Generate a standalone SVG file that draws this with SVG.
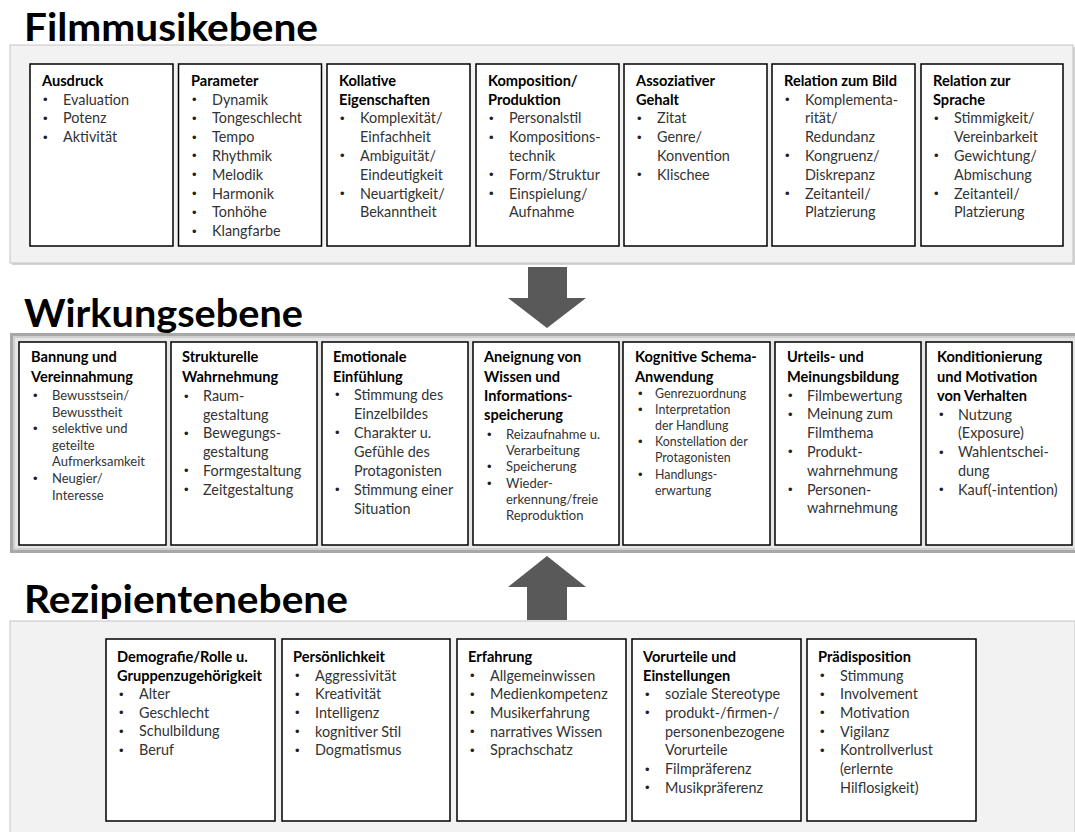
<svg xmlns="http://www.w3.org/2000/svg" width="1075" height="832" viewBox="0 0 1075 832">
<style>
.h{font-family:Lato,"Liberation Sans",sans-serif;font-weight:700;font-size:39px;fill:#000}
.t{font-family:Lato,"Liberation Sans",sans-serif;font-weight:700;font-size:14.6px;fill:#000}
.i{font-family:Lato,"Liberation Sans",sans-serif;font-size:14.4px;fill:#333}
.s{font-family:Lato,"Liberation Sans",sans-serif;font-size:13px;fill:#333}
.xs{font-family:Lato,"Liberation Sans",sans-serif;font-size:12.4px;fill:#333}
.d{font-family:"Liberation Sans",sans-serif;font-size:13px;fill:#222}
.b{fill:#fff;stroke:#000;stroke-width:1.5}
.arr{fill:#595959}
</style>
<rect width="1075" height="832" fill="#fff"/>
<g id="panels">
<rect x="12" y="47" width="1063" height="218" fill="#d4d4d4"/>
<rect x="10" y="45" width="1063" height="218" fill="#f2f2f2" stroke="#c4c4c4" stroke-width="1"/>
<rect x="11.5" y="334.5" width="1067" height="217" fill="#e6e6e6" stroke="#a8a8a8" stroke-width="3"/>
<rect x="14" y="337" width="1062" height="212" fill="none" stroke="#cfcfcf" stroke-width="2"/>
<rect x="10" y="621" width="1065" height="220" fill="#f2f2f2" stroke="#c4c4c4" stroke-width="1"/>
</g>
<g id="headings">
<text class="h" x="24" y="41" textLength="294" lengthAdjust="spacingAndGlyphs">Filmmusikebene</text>
<text class="h" x="24" y="327" textLength="279" lengthAdjust="spacingAndGlyphs">Wirkungsebene</text>
<text class="h" x="24" y="613" textLength="324" lengthAdjust="spacingAndGlyphs">Rezipientenebene</text>
</g>
<g id="connectors">
<polygon class="arr" points="528,267 567,267 567,298 586,298 547,328 508,298 528,298"/>
<polygon class="arr" points="547,556 586,587 567,587 567,620 527,620 527,587 508,587"/>
</g>

<g id="f1">
<rect class="b" x="30" y="64" width="143" height="182"/>
<text class="t" x="42" y="86">Ausdruck</text>
<text class="d" x="43" y="104">•</text><text class="i" x="63" y="104.5">Evaluation</text>
<text class="d" x="43" y="122.8">•</text><text class="i" x="63" y="123.3">Potenz</text>
<text class="d" x="43" y="141.6">•</text><text class="i" x="63" y="142.1">Aktivität</text>
</g>
<g id="f2">
<rect class="b" x="178.5" y="64" width="143" height="182"/>
<text class="t" x="191" y="86">Parameter</text>
<text class="d" x="192" y="104">•</text><text class="i" x="212" y="104.5">Dynamik</text>
<text class="d" x="192" y="122.8">•</text><text class="i" x="212" y="123.3">Tongeschlecht</text>
<text class="d" x="192" y="141.6">•</text><text class="i" x="212" y="142.1">Tempo</text>
<text class="d" x="192" y="160.4">•</text><text class="i" x="212" y="160.9">Rhythmik</text>
<text class="d" x="192" y="179.2">•</text><text class="i" x="212" y="179.7">Melodik</text>
<text class="d" x="192" y="198">•</text><text class="i" x="212" y="198.5">Harmonik</text>
<text class="d" x="192" y="216.8">•</text><text class="i" x="212" y="217.3">Tonhöhe</text>
<text class="d" x="192" y="235.6">•</text><text class="i" x="212" y="236.1">Klangfarbe</text>
</g>
<g id="f3">
<rect class="b" x="327" y="64" width="143" height="182"/>
<text class="t" x="339" y="86">Kollative</text>
<text class="t" x="339" y="104.5">Eigenschaften</text>
<text class="d" x="340" y="122.8">•</text><text class="i" x="360" y="123.3">Komplexität/</text>
<text class="i" x="360" y="142.1">Einfachheit</text>
<text class="d" x="340" y="160.4">•</text><text class="i" x="360" y="160.9">Ambiguität/</text>
<text class="i" x="360" y="179.7">Eindeutigkeit</text>
<text class="d" x="340" y="198">•</text><text class="i" x="360" y="198.5">Neuartigkeit/</text>
<text class="i" x="360" y="217.3">Bekanntheit</text>
</g>
<g id="f4">
<rect class="b" x="476" y="64" width="143" height="182"/>
<text class="t" x="488" y="86">Komposition/</text>
<text class="t" x="488" y="104.5">Produktion</text>
<text class="d" x="489" y="122.8">•</text><text class="i" x="509" y="123.3">Personalstil</text>
<text class="d" x="489" y="141.6">•</text><text class="i" x="509" y="142.1">Kompositions-</text>
<text class="i" x="509" y="160.9">technik</text>
<text class="d" x="489" y="179.2">•</text><text class="i" x="509" y="179.7">Form/Struktur</text>
<text class="d" x="489" y="198">•</text><text class="i" x="509" y="198.5">Einspielung/</text>
<text class="i" x="509" y="217.3">Aufnahme</text>
</g>
<g id="f5">
<rect class="b" x="624" y="64" width="143" height="182"/>
<text class="t" x="636" y="86">Assoziativer</text>
<text class="t" x="636" y="104.5">Gehalt</text>
<text class="d" x="637" y="122.8">•</text><text class="i" x="657" y="123.3">Zitat</text>
<text class="d" x="637" y="141.6">•</text><text class="i" x="657" y="142.1">Genre/</text>
<text class="i" x="657" y="160.9">Konvention</text>
<text class="d" x="637" y="179.2">•</text><text class="i" x="657" y="179.7">Klischee</text>
</g>
<g id="f6">
<rect class="b" x="772" y="64" width="143" height="182"/>
<text class="t" x="784" y="86">Relation zum Bild</text>
<text class="d" x="785" y="104">•</text><text class="i" x="805" y="104.5">Komplementa-</text>
<text class="i" x="805" y="123.3">rität/</text>
<text class="i" x="805" y="142.1">Redundanz</text>
<text class="d" x="785" y="160.4">•</text><text class="i" x="805" y="160.9">Kongruenz/</text>
<text class="i" x="805" y="179.7">Diskrepanz</text>
<text class="d" x="785" y="198">•</text><text class="i" x="805" y="198.5">Zeitanteil/</text>
<text class="i" x="805" y="217.3">Platzierung</text>
</g>
<g id="f7">
<rect class="b" x="921" y="64" width="142" height="182"/>
<text class="t" x="933" y="86">Relation zur</text>
<text class="t" x="933" y="104.5">Sprache</text>
<text class="d" x="934" y="122.8">•</text><text class="i" x="954" y="123.3">Stimmigkeit/</text>
<text class="i" x="954" y="142.1">Vereinbarkeit</text>
<text class="d" x="934" y="160.4">•</text><text class="i" x="954" y="160.9">Gewichtung/</text>
<text class="i" x="954" y="179.7">Abmischung</text>
<text class="d" x="934" y="198">•</text><text class="i" x="954" y="198.5">Zeitanteil/</text>
<text class="i" x="954" y="217.3">Platzierung</text>
</g>

<g id="w1">
<rect class="b" x="19" y="342" width="147" height="203"/>
<text class="t" x="31" y="362">Bannung und</text>
<text class="t" x="31" y="382">Vereinnahmung</text>
<text class="d" x="33" y="400">•</text><text class="s" x="52" y="400">Bewusstsein/</text>
<text class="s" x="52" y="416.6">Bewusstheit</text>
<text class="d" x="33" y="433.2">•</text><text class="s" x="52" y="433.2">selektive und</text>
<text class="s" x="52" y="449.8">geteilte</text>
<text class="s" x="52" y="466.4">Aufmerksamkeit</text>
<text class="d" x="33" y="483">•</text><text class="s" x="52" y="483">Neugier/</text>
<text class="s" x="52" y="499.6">Interesse</text>
</g>
<g id="w2">
<rect class="b" x="171" y="342" width="146" height="203"/>
<text class="t" x="182" y="362">Strukturelle</text>
<text class="t" x="182" y="382">Wahrnehmung</text>
<text class="d" x="184" y="400.5">•</text><text class="i" x="203" y="401">Raum-</text>
<text class="i" x="203" y="419.7">gestaltung</text>
<text class="d" x="184" y="437.9">•</text><text class="i" x="203" y="438.4">Bewegungs-</text>
<text class="i" x="203" y="457.1">gestaltung</text>
<text class="d" x="184" y="475.3">•</text><text class="i" x="203" y="475.8">Formgestaltung</text>
<text class="d" x="184" y="494">•</text><text class="i" x="203" y="494.5">Zeitgestaltung</text>
</g>
<g id="w3">
<rect class="b" x="322" y="342" width="146" height="203"/>
<text class="t" x="333" y="362">Emotionale</text>
<text class="t" x="333" y="382">Einfühlung</text>
<text class="d" x="335" y="399">•</text><text class="i" x="354" y="399.5">Stimmung des</text>
<text class="i" x="354" y="418.5">Einzelbildes</text>
<text class="d" x="335" y="437">•</text><text class="i" x="354" y="437.5">Charakter u.</text>
<text class="i" x="354" y="456.5">Gefühle des</text>
<text class="i" x="354" y="475.5">Protagonisten</text>
<text class="d" x="335" y="494">•</text><text class="i" x="354" y="494.5">Stimmung einer</text>
<text class="i" x="354" y="513.5">Situation</text>
</g>
<g id="w4">
<rect class="b" x="473" y="342" width="146" height="203"/>
<text class="t" x="484" y="362">Aneignung von</text>
<text class="t" x="484" y="382">Wissen und</text>
<text class="t" x="484" y="401">Informations-</text>
<text class="t" x="484" y="420">speicherung</text>
<text class="d" x="487" y="439">•</text><text class="s" x="506" y="439">Reizaufnahme u.</text>
<text class="s" x="506" y="455.2">Verarbeitung</text>
<text class="d" x="487" y="471.4">•</text><text class="s" x="506" y="471.4">Speicherung</text>
<text class="d" x="487" y="487.6">•</text><text class="s" x="506" y="487.6">Wieder-</text>
<text class="s" x="506" y="503.8">erkennung/freie</text>
<text class="s" x="506" y="520">Reproduktion</text>
</g>
<g id="w5">
<rect class="b" x="623" y="342" width="147" height="203"/>
<text class="t" x="635" y="362">Kognitive Schema-</text>
<text class="t" x="635" y="382">Anwendung</text>
<text class="d" x="638" y="397.5">•</text><text class="xs" x="655" y="397.5">Genrezuordnung</text>
<text class="d" x="638" y="413.7">•</text><text class="xs" x="655" y="413.7">Interpretation</text>
<text class="xs" x="655" y="429.9">der Handlung</text>
<text class="d" x="638" y="446.1">•</text><text class="xs" x="655" y="446.1">Konstellation der</text>
<text class="xs" x="655" y="462.3">Protagonisten</text>
<text class="d" x="638" y="478.5">•</text><text class="xs" x="655" y="478.5">Handlungs-</text>
<text class="xs" x="655" y="494.7">erwartung</text>
</g>
<g id="w6">
<rect class="b" x="775" y="342" width="146" height="203"/>
<text class="t" x="787" y="362">Urteils- und</text>
<text class="t" x="787" y="382">Meinungsbildung</text>
<text class="d" x="788" y="400">•</text><text class="i" x="807" y="400.5">Filmbewertung</text>
<text class="d" x="788" y="418.8">•</text><text class="i" x="807" y="419.3">Meinung zum</text>
<text class="i" x="807" y="438.1">Filmthema</text>
<text class="d" x="788" y="456.4">•</text><text class="i" x="807" y="456.9">Produkt-</text>
<text class="i" x="807" y="475.7">wahrnehmung</text>
<text class="d" x="788" y="494">•</text><text class="i" x="807" y="494.5">Personen-</text>
<text class="i" x="807" y="513.3">wahrnehmung</text>
</g>
<g id="w7">
<rect class="b" x="926" y="342" width="146" height="203"/>
<text class="t" x="937" y="362">Konditionierung</text>
<text class="t" x="937" y="382">und Motivation</text>
<text class="t" x="937" y="401">von Verhalten</text>
<text class="d" x="939" y="419">•</text><text class="i" x="958" y="419.5">Nutzung</text>
<text class="i" x="958" y="438.3">(Exposure)</text>
<text class="d" x="939" y="456.6">•</text><text class="i" x="958" y="457.1">Wahlentschei-</text>
<text class="i" x="958" y="475.9">dung</text>
<text class="d" x="939" y="494.2">•</text><text class="i" x="958" y="494.7">Kauf(-intention)</text>
</g>

<g id="r1">
<rect class="b" x="106" y="639" width="169" height="182"/>
<text class="t" x="117" y="662">Demografie/Rolle u.</text>
<text class="t" x="117" y="680.5">Gruppenzugehörigkeit</text>
<text class="d" x="119" y="698.5">•</text><text class="i" x="139" y="699">Alter</text>
<text class="d" x="119" y="717.2">•</text><text class="i" x="139" y="717.7">Geschlecht</text>
<text class="d" x="119" y="735.9">•</text><text class="i" x="139" y="736.4">Schulbildung</text>
<text class="d" x="119" y="754.6">•</text><text class="i" x="139" y="755.1">Beruf</text>
</g>
<g id="r2">
<rect class="b" x="282" y="639" width="168" height="182"/>
<text class="t" x="293" y="662">Persönlichkeit</text>
<text class="d" x="295" y="680">•</text><text class="i" x="315" y="680.5">Aggressivität</text>
<text class="d" x="295" y="698.7">•</text><text class="i" x="315" y="699.2">Kreativität</text>
<text class="d" x="295" y="717.4">•</text><text class="i" x="315" y="717.9">Intelligenz</text>
<text class="d" x="295" y="736.1">•</text><text class="i" x="315" y="736.6">kognitiver Stil</text>
<text class="d" x="295" y="754.8">•</text><text class="i" x="315" y="755.3">Dogmatismus</text>
</g>
<g id="r3">
<rect class="b" x="457" y="639" width="169" height="182"/>
<text class="t" x="468" y="662">Erfahrung</text>
<text class="d" x="470" y="680">•</text><text class="i" x="490" y="680.5">Allgemeinwissen</text>
<text class="d" x="470" y="698.7">•</text><text class="i" x="490" y="699.2">Medienkompetenz</text>
<text class="d" x="470" y="717.4">•</text><text class="i" x="490" y="717.9">Musikerfahrung</text>
<text class="d" x="470" y="736.1">•</text><text class="i" x="490" y="736.6">narratives Wissen</text>
<text class="d" x="470" y="754.8">•</text><text class="i" x="490" y="755.3">Sprachschatz</text>
</g>
<g id="r4">
<rect class="b" x="632" y="639" width="169" height="182"/>
<text class="t" x="643" y="662">Vorurteile und</text>
<text class="t" x="643" y="680.5">Einstellungen</text>
<text class="d" x="645" y="698.7">•</text><text class="i" x="665" y="699.2">soziale Stereotype</text>
<text class="d" x="645" y="717.4">•</text><text class="i" x="665" y="717.9">produkt-/firmen-/</text>
<text class="i" x="665" y="736.6">personenbezogene</text>
<text class="i" x="665" y="755.3">Vorurteile</text>
<text class="d" x="645" y="773.5">•</text><text class="i" x="665" y="774">Filmpräferenz</text>
<text class="d" x="645" y="792.2">•</text><text class="i" x="665" y="792.7">Musikpräferenz</text>
</g>
<g id="r5">
<rect class="b" x="807" y="639" width="169" height="182"/>
<text class="t" x="818" y="662">Prädisposition</text>
<text class="d" x="820" y="680">•</text><text class="i" x="840" y="680.5">Stimmung</text>
<text class="d" x="820" y="698.7">•</text><text class="i" x="840" y="699.2">Involvement</text>
<text class="d" x="820" y="717.4">•</text><text class="i" x="840" y="717.9">Motivation</text>
<text class="d" x="820" y="736.1">•</text><text class="i" x="840" y="736.6">Vigilanz</text>
<text class="d" x="820" y="754.8">•</text><text class="i" x="840" y="755.3">Kontrollverlust</text>
<text class="i" x="840" y="774">(erlernte</text>
<text class="i" x="840" y="792.7">Hilflosigkeit)</text>
</g>
</svg>
